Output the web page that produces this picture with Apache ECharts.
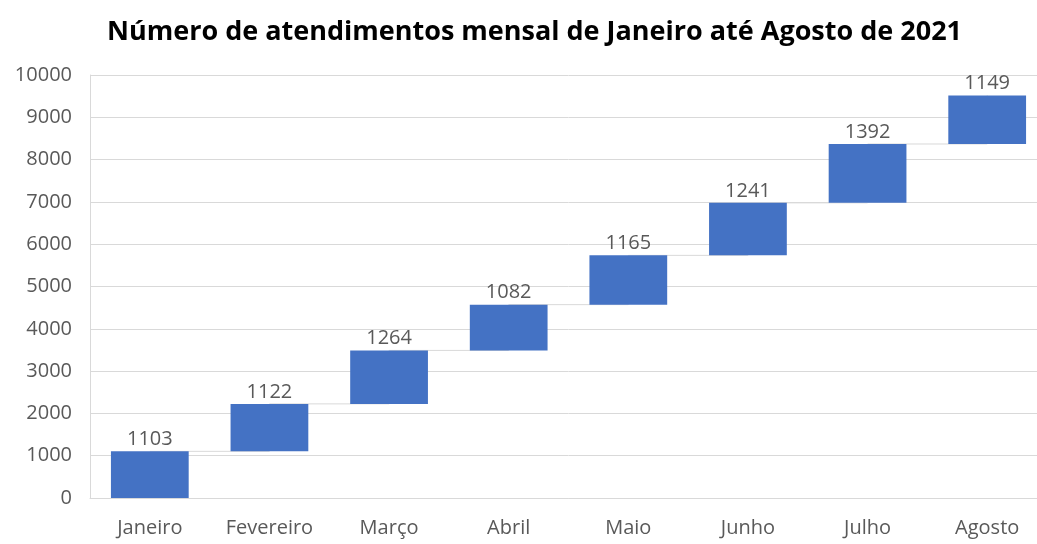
<!DOCTYPE html>
<html>
<head>
<meta charset="utf-8">
<script src="https://cdn.jsdelivr.net/npm/echarts@6/dist/echarts.min.js"></script>
<style>
  html, body { margin: 0; padding: 0; background: #fff; overflow: hidden; }
  #main { width: 1050px; height: 544px; }
</style>
</head>
<body>
<div id="main"></div>
<script>
// dados
var meses = ['Janeiro', 'Fevereiro', 'Março', 'Abril', 'Maio', 'Junho', 'Julho', 'Agosto'];
var atendimentos = [1103, 1122, 1264, 1082, 1165, 1241, 1392, 1149];

// base invisível e acumulado para a cascata
var base = [];
var acumulado = [];
var soma = 0;
for (var i = 0; i < atendimentos.length; i++) {
  base.push(soma);
  soma += atendimentos[i];
  acumulado.push(soma);
}

var fonte = 'Open Sans';
var myChart = echarts.init(document.getElementById('main'));

var option = {
  animation: false,
  title: {
    text: 'Número de atendimentos mensal de Janeiro até Agosto de 2021',
    left: 102,
    top: 14,
    textStyle: { fontFamily: fonte, fontSize: 27, fontWeight: 'bold', color: '#000' }
  },
  grid: { left: 90, right: 3, top: 75, bottom: 46 },
  xAxis: {
    type: 'category',
    data: meses,
    axisLine: { lineStyle: { color: '#d9d9d9', width: 1 } },
    axisTick: { show: false },
    axisLabel: { margin: 20, fontFamily: fonte, fontSize: 20, color: '#595959' }
  },
  yAxis: {
    type: 'value',
    min: 0,
    max: 10000,
    interval: 1000,
    axisLine: { show: true, lineStyle: { color: '#d9d9d9' } },
    splitLine: { lineStyle: { color: '#d9d9d9' } },
    axisLabel: {
      margin: 18,
      fontFamily: fonte,
      fontSize: 20,
      color: '#595959',
      formatter: function (v) { return String(v); }
    }
  },
  series: [
    {
      // linhas de ligação entre as barras
      type: 'line',
      step: 'end',
      data: acumulado,
      symbol: 'none',
      z: 1,
      lineStyle: { color: '#d9d9d9', width: 1 }
    },
    {
      type: 'bar',
      stack: 'cascata',
      data: base,
      barWidth: '65%',
      z: 2,
      itemStyle: { color: 'transparent' }
    },
    {
      type: 'bar',
      stack: 'cascata',
      data: atendimentos,
      z: 3,
      itemStyle: { color: '#4472c4' },
      label: {
        show: true,
        position: 'top',
        distance: 2,
        fontFamily: fonte,
        fontSize: 20,
        color: '#595959'
      }
    }
  ]
};

myChart.setOption(option);
</script>
</body>
</html>
